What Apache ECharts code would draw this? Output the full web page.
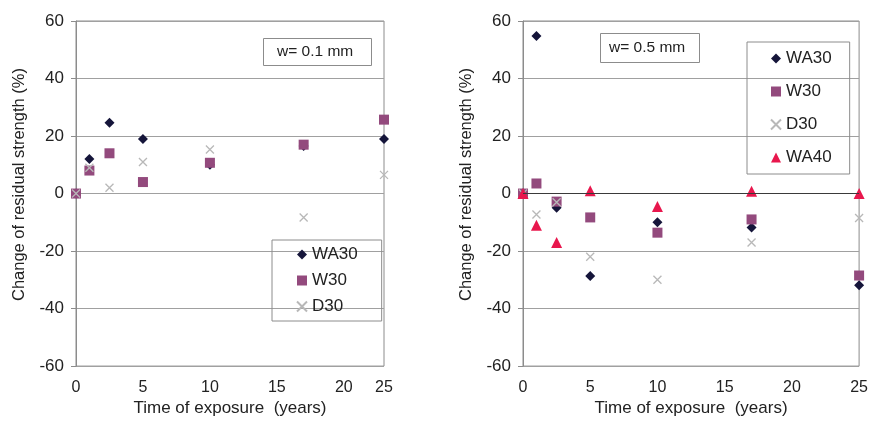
<!DOCTYPE html>
<html>
<head>
<meta charset="utf-8">
<script src="https://cdn.jsdelivr.net/npm/echarts@6/dist/echarts.min.js"></script>
<style>
  html, body { margin: 0; padding: 0; background: #fff; }
  #chart { width: 871px; height: 422px; }
</style>
</head>
<body>
<div id="chart"></div>
<script>
// exposure times (years)
var yearsLeft = [0, 1, 2.5, 5, 10, 17, 23];   // last sample sits on the right edge, labelled 25
var yearsRight = [0, 1, 2.5, 5, 10, 17, 25];

// w = 0.1 mm
var wa30Left = [0, 12, 24.6, 19, 10, 16.5, 19];
var w30Left = [0, 8, 14, 4, 10.7, 17, 25.7];
var d30Left = [0, 9, 2, 11, 15.3, -8.3, 6.5];

// w = 0.5 mm
var wa30Right = [0, 54.8, -4.9, -28.7, -10, -11.8, -31.9];
var w30Right = [0, 3.5, -2.8, -8.3, -13.6, -9, -28.5];
var d30Right = [0, -7.3, -3, -22, -30, -17, -8.5];
var wa40Right = [0, -11, -17, 1, -4.5, 0.8, 0];

var yTicks = [-60, -40, -20, 0, 20, 40, 60];

var font = 'Liberation Sans, Arial, sans-serif';
var textColor = '#222';
var lineColor = '#8c8c8c';
var xSymbol = 'path://M0,0L10,10M10,0L0,10';

function pairs (xs, ys) {
  return xs.map(function (x, i) { return [x, ys[i]] })
}

function xAxisFor (idx, max) {
  return {
    type: 'value',
    gridIndex: idx,
    min: 0,
    max: max,
    interval: 5,
    name: 'Time of exposure  (years)',
    nameLocation: 'middle',
    nameGap: 32,
    nameTextStyle: { fontFamily: font, fontSize: 17, color: textColor },
    axisLine: { show: false },
    axisTick: { show: false },
    splitLine: { show: false },
    axisLabel: {
      fontFamily: font, fontSize: 16, color: textColor, margin: 13,
      formatter: function (v) { return v === max ? '25' : String(v) }
    }
  }
}

function yAxisFor (idx) {
  return {
    type: 'value',
    gridIndex: idx,
    min: yTicks[0],
    max: yTicks[yTicks.length - 1],
    interval: 20,
    name: 'Change of residual strength (%)',
    nameLocation: 'middle',
    nameGap: 48,
    nameTextStyle: { fontFamily: font, fontSize: 16.5, color: textColor, padding: [0, 0, 0, 18] },
    axisLine: { show: true, lineStyle: { color: lineColor } },
    axisTick: { show: true, inside: false, length: 5, lineStyle: { color: lineColor } },
    axisLabel: { fontFamily: font, fontSize: 17, color: textColor, margin: 12 },
    splitLine: { show: true, lineStyle: { color: '#a0a0a0', width: 1 } }
  }
}

var wa30Style = { symbol: 'diamond', symbolSize: 10, itemStyle: { color: '#15153a', opacity: 1 } }
var w30Style = { symbol: 'rect', symbolSize: 10, itemStyle: { color: '#934a7d', opacity: 1 } }
var d30Style = { symbol: xSymbol, symbolSize: 8, itemStyle: { color: 'rgba(0,0,0,0)', borderColor: '#b8b8b8', borderWidth: 1.3, opacity: 1 } }
var wa40Style = { symbol: 'triangle', symbolSize: 11, itemStyle: { color: '#e8174d', opacity: 1 } }

function scatter (name, style, idx, data) {
  return Object.assign({
    name: name,
    type: 'scatter',
    xAxisIndex: idx,
    yAxisIndex: idx,
    data: data
  }, style)
}

var chart = echarts.init(document.getElementById('chart'))

var zeroLine = {
  silent: true,
  symbol: 'none',
  label: { show: false },
  lineStyle: { color: '#3a3a3a', type: 'solid', width: 1 },
  data: [{ yAxis: 0 }]
}

var option = {
  animation: false,
  backgroundColor: '#fff',
  title: [
    {
      text: 'w= 0.1 mm', left: 263, top: 38,
      padding: [6, 19, 6, 14],
      borderColor: '#8c8c8c', borderWidth: 1,
      textStyle: { fontFamily: font, fontSize: 15.5, fontWeight: 'normal', color: textColor }
    },
    {
      text: 'w= 0.5 mm', left: 600, top: 33,
      padding: [7, 15, 7, 9],
      borderColor: '#8c8c8c', borderWidth: 1,
      textStyle: { fontFamily: font, fontSize: 15.5, fontWeight: 'normal', color: textColor }
    }
  ],
  legend: [
    {
      orient: 'vertical', left: 272, top: 240,
      data: ['WA30', 'W30', 'D30'],
      itemWidth: 10, itemHeight: 10, itemGap: 9,
      padding: [6, 24, 6, 24],
      borderColor: '#8c8c8c', borderWidth: 1,
      textStyle: { fontFamily: font, fontSize: 17, color: textColor }
    },
    {
      orient: 'vertical', left: 747, top: 42,
      data: ['WA30', 'W30', 'D30', 'WA40'],
      itemWidth: 10, itemHeight: 10, itemGap: 16,
      padding: [8, 18, 8, 23],
      borderColor: '#8c8c8c', borderWidth: 1,
      textStyle: { fontFamily: font, fontSize: 17, color: textColor }
    }
  ],
  grid: [
    { left: 76, top: 21, width: 308, height: 346, show: true, borderColor: lineColor, borderWidth: 1 },
    { left: 523, top: 21, width: 337, height: 346, show: true, borderColor: lineColor, borderWidth: 1 }
  ],
  xAxis: [xAxisFor(0, 23), xAxisFor(1, 25)],
  yAxis: [yAxisFor(0), yAxisFor(1)],
  series: [
    scatter('WA30', wa30Style, 0, pairs(yearsLeft, wa30Left)),
    scatter('W30', w30Style, 0, pairs(yearsLeft, w30Left)),
    scatter('D30', d30Style, 0, pairs(yearsLeft, d30Left)),
    Object.assign(scatter('WA30', wa30Style, 1, pairs(yearsRight, wa30Right)), { markLine: zeroLine }),
    scatter('W30', w30Style, 1, pairs(yearsRight, w30Right)),
    scatter('D30', d30Style, 1, pairs(yearsRight, d30Right)),
    scatter('WA40', wa40Style, 1, pairs(yearsRight, wa40Right))
  ]
}

chart.setOption(option)
</script>
</body>
</html>
